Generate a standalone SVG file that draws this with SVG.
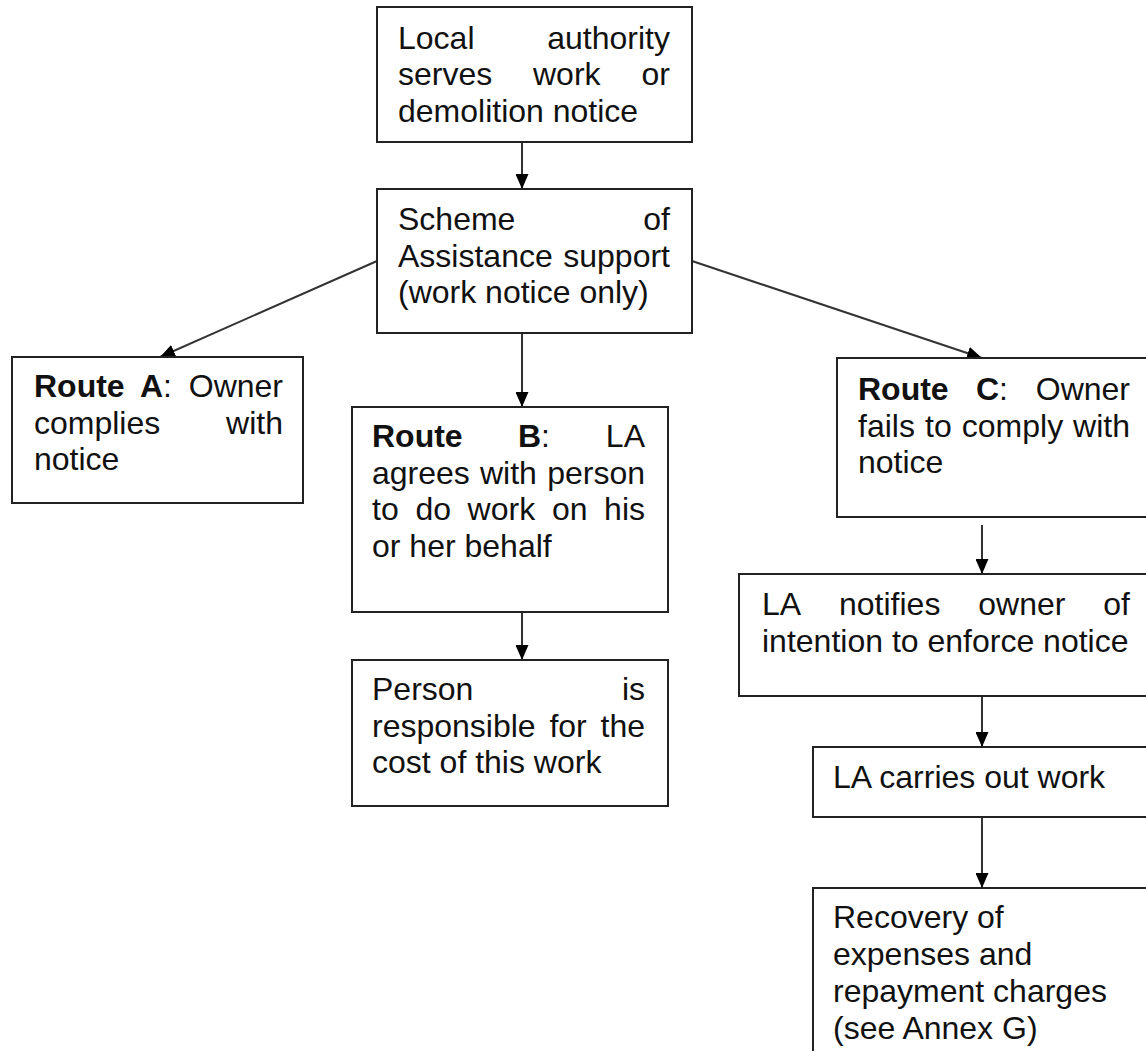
<svg xmlns="http://www.w3.org/2000/svg" width="1146" height="1051" viewBox="0 0 1146 1051">
<style>
  .box { fill: #fff; stroke: #222; stroke-width: 2; }
  .t { font-family: "Liberation Sans", Arial, sans-serif; font-size: 32px; fill: #111; }
  .b { font-weight: bold; }
  .e { text-anchor: end; }
  .conn { stroke: #333; stroke-width: 2; fill: none; marker-end: url(#ah); }
</style>
<defs>
  <marker id="ah" markerUnits="userSpaceOnUse" markerWidth="15" markerHeight="13" refX="15" refY="6.5" orient="auto">
    <path d="M0,0 L15,6.5 L0,13 z" fill="#000"/>
  </marker>
</defs>
<rect width="1146" height="1051" fill="#fff"/>

<g id="connectors">
  <line class="conn" x1="522" y1="142" x2="522" y2="189"/>
  <line class="conn" x1="377" y1="261" x2="160" y2="357"/>
  <line class="conn" x1="692" y1="261" x2="982" y2="358"/>
  <line class="conn" x1="522" y1="333" x2="522" y2="407"/>
  <line class="conn" x1="522" y1="612" x2="522" y2="660"/>
  <line class="conn" x1="982" y1="525" x2="982" y2="574"/>
  <line class="conn" x1="982" y1="696" x2="982" y2="747"/>
  <line class="conn" x1="982" y1="817" x2="982" y2="888"/>
</g>

<g id="n-serve">
  <rect class="box" x="377" y="7" width="315" height="135"/>
  <text class="t" y="48.5"><tspan x="398">Local</tspan></text>
  <text class="t e" x="670" y="48.5">authority</text>
  <text class="t" y="85"><tspan x="398">serves</tspan><tspan x="533">work</tspan></text>
  <text class="t e" x="670" y="85">or</text>
  <text class="t" x="398" y="121.5">demolition notice</text>
</g>

<g id="n-scheme">
  <rect class="box" x="377" y="189" width="315" height="144"/>
  <text class="t" x="398" y="230">Scheme</text>
  <text class="t e" x="670" y="230">of</text>
  <text class="t" x="398" y="266.5">Assistance</text>
  <text class="t e" x="670" y="266.5">support</text>
  <text class="t" x="398" y="303">(work notice only)</text>
</g>

<g id="n-routeA">
  <rect class="box" x="12" y="357" width="291" height="146"/>
  <text class="t" y="397"><tspan class="b" x="34">Route</tspan><tspan class="b" x="140">A</tspan><tspan>:</tspan></text>
  <text class="t e" x="283" y="397">Owner</text>
  <text class="t" x="34" y="433.5">complies</text>
  <text class="t e" x="283" y="433.5">with</text>
  <text class="t" x="34" y="470">notice</text>
</g>

<g id="n-routeB">
  <rect class="box" x="352" y="407" width="316" height="205"/>
  <text class="t" y="447"><tspan class="b" x="372">Route</tspan><tspan class="b" x="518">B</tspan><tspan>:</tspan></text>
  <text class="t e" x="645" y="447">LA</text>
  <text class="t" y="483.5"><tspan x="372">agrees</tspan><tspan x="480">with</tspan></text>
  <text class="t e" x="645" y="483.5">person</text>
  <text class="t" y="520"><tspan x="372">to</tspan><tspan x="415.4">do</tspan><tspan x="467.6">work</tspan><tspan x="551.9">on</tspan></text>
  <text class="t e" x="645" y="520">his</text>
  <text class="t" x="372" y="556.5">or her behalf</text>
</g>

<g id="n-person">
  <rect class="box" x="352" y="660" width="316" height="146"/>
  <text class="t" x="372" y="700">Person</text>
  <text class="t e" x="645" y="700">is</text>
  <text class="t" y="736.5"><tspan x="372">responsible</tspan><tspan x="549.4">for</tspan></text>
  <text class="t e" x="645" y="736.5">the</text>
  <text class="t" x="372" y="773">cost of this work</text>
</g>

<g id="n-routeC">
  <rect class="box" x="837" y="358" width="330" height="159"/>
  <text class="t" y="400"><tspan class="b" x="858">Route</tspan><tspan class="b" x="976">C</tspan><tspan>:</tspan></text>
  <text class="t e" x="1130" y="400">Owner</text>
  <text class="t" y="436.5"><tspan x="858">fails</tspan><tspan x="925">to</tspan><tspan x="961.8">comply</tspan></text>
  <text class="t e" x="1130" y="436.5">with</text>
  <text class="t" x="858" y="473">notice</text>
</g>

<g id="n-notify">
  <rect class="box" x="739" y="574" width="428" height="122"/>
  <text class="t" y="615"><tspan x="762">LA</tspan><tspan x="839">notifies</tspan><tspan x="978.3">owner</tspan></text>
  <text class="t e" x="1130" y="615">of</text>
  <text class="t" x="762" y="652">intention to enforce notice</text>
</g>

<g id="n-carry">
  <rect class="box" x="813" y="747" width="354" height="70"/>
  <text class="t" x="833" y="788">LA carries out work</text>
</g>

<g id="n-recover">
  <rect class="box" x="813" y="888" width="354" height="190"/>
  <text class="t" x="833" y="928">Recovery of</text>
  <text class="t" x="833" y="965">expenses and</text>
  <text class="t" x="833" y="1002">repayment charges</text>
  <text class="t" x="833" y="1039">(see Annex G)</text>
</g>
</svg>
